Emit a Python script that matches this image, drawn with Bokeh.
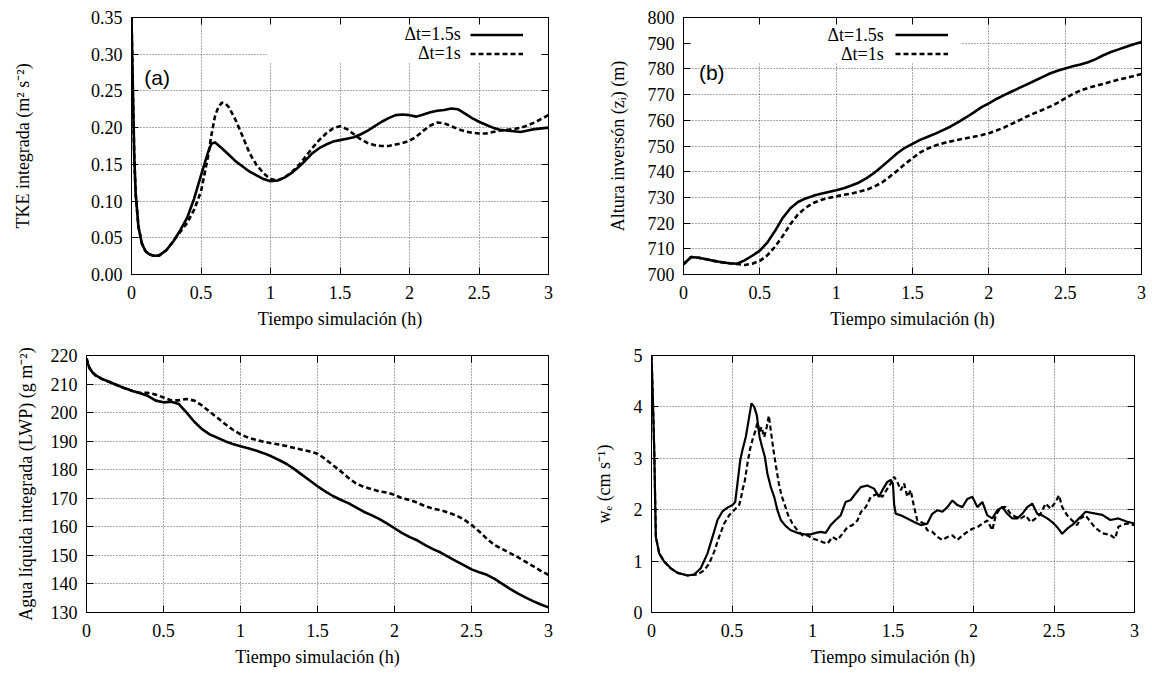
from bokeh.plotting import figure
from bokeh.models import (Range1d, FixedTicker, LinearAxis, Legend, LegendItem,
                          Label, BoxAnnotation, Grid)
from bokeh.layouts import column, row
from bokeh.core.properties import value
from bokeh.embed import file_html
from bokeh.resources import INLINE

# ---------------- data ----------------
x_ticks = [0, 0.5, 1, 1.5, 2, 2.5, 3]
x_tick_labels = ["0", "0.5", "1", "1.5", "2", "2.5", "3"]
x_title = "Tiempo simulación (h)"
series_labels = ["\u0394t=1.5s", "\u0394t=1s"]

# (a) TKE integrada
tke_t15 = [0, 0.01, 0.02, 0.03, 0.05, 0.075, 0.1, 0.125, 0.15, 0.175, 0.2, 0.25, 0.3, 0.35, 0.4,
           0.45, 0.5, 0.55, 0.575, 0.6, 0.65, 0.7, 0.75, 0.8, 0.85, 0.9, 0.95, 1.0, 1.05, 1.1,
           1.15, 1.2, 1.25, 1.3, 1.35, 1.4, 1.45, 1.5, 1.55, 1.6, 1.65, 1.7, 1.75, 1.8, 1.85,
           1.9, 1.95, 2.0, 2.05, 2.1, 2.15, 2.2, 2.25, 2.3, 2.35, 2.4, 2.45, 2.5, 2.55, 2.6,
           2.65, 2.7, 2.75, 2.8, 2.85, 2.9, 2.95, 3.0]
tke_v15 = [0.35, 0.25, 0.16, 0.11, 0.065, 0.042, 0.032, 0.028, 0.026, 0.0255, 0.026, 0.033, 0.045,
           0.060, 0.077, 0.103, 0.135, 0.166, 0.178, 0.180, 0.172, 0.163, 0.154, 0.147, 0.140,
           0.135, 0.130, 0.127, 0.128, 0.132, 0.138, 0.146, 0.155, 0.165, 0.172, 0.177, 0.181,
           0.183, 0.185, 0.187, 0.191, 0.196, 0.202, 0.208, 0.213, 0.217, 0.218, 0.217, 0.215,
           0.218, 0.221, 0.223, 0.224, 0.226, 0.225, 0.219, 0.213, 0.208, 0.204, 0.200, 0.197,
           0.196, 0.195, 0.194, 0.196, 0.198, 0.199, 0.200]
tke_t1 = [0, 0.01, 0.02, 0.03, 0.05, 0.075, 0.1, 0.125, 0.15, 0.175, 0.2, 0.25, 0.3, 0.35, 0.4,
          0.45, 0.5, 0.55, 0.575, 0.6, 0.625, 0.65, 0.675, 0.7, 0.75, 0.8, 0.85, 0.9, 0.95, 1.0,
          1.05, 1.1, 1.15, 1.2, 1.25, 1.3, 1.35, 1.4, 1.45, 1.5, 1.55, 1.6, 1.65, 1.7, 1.75,
          1.8, 1.85, 1.9, 1.95, 2.0, 2.05, 2.1, 2.15, 2.2, 2.25, 2.3, 2.35, 2.4, 2.45, 2.5,
          2.55, 2.6, 2.65, 2.7, 2.75, 2.8, 2.85, 2.9, 2.95, 3.0]
tke_v1 = [0.35, 0.25, 0.16, 0.11, 0.065, 0.042, 0.032, 0.028, 0.026, 0.0255, 0.026, 0.033, 0.045,
          0.058, 0.070, 0.088, 0.113, 0.160, 0.190, 0.215, 0.228, 0.234, 0.233, 0.228, 0.210,
          0.188, 0.165, 0.149, 0.138, 0.130, 0.128, 0.132, 0.139, 0.148, 0.160, 0.172, 0.183,
          0.192, 0.199, 0.202, 0.198, 0.191, 0.184, 0.179, 0.176, 0.175, 0.175, 0.177, 0.179,
          0.182, 0.188, 0.196, 0.203, 0.207, 0.206, 0.202, 0.198, 0.195, 0.193, 0.192, 0.192,
          0.194, 0.196, 0.197, 0.198, 0.200, 0.203, 0.207, 0.212, 0.217]
tke_ticks = [0.0, 0.05, 0.10, 0.15, 0.20, 0.25, 0.30, 0.35]
tke_tick_labels = ["0.00", "0.05", "0.10", "0.15", "0.20", "0.25", "0.30", "0.35"]

# (b) Altura inversion
zi_t = [0, 0.05, 0.1, 0.15, 0.2, 0.25, 0.3, 0.35, 0.4, 0.45, 0.5, 0.55, 0.6, 0.65, 0.7, 0.75, 0.8,
        0.85, 0.9, 0.95, 1.0, 1.05, 1.1, 1.15, 1.2, 1.25, 1.3, 1.35, 1.4, 1.45, 1.5, 1.55, 1.6,
        1.65, 1.7, 1.75, 1.8, 1.85, 1.9, 1.95, 2.0, 2.05, 2.1, 2.15, 2.2, 2.25, 2.3, 2.35, 2.4,
        2.45, 2.5, 2.55, 2.6, 2.65, 2.7, 2.75, 2.8, 2.85, 2.9, 2.95, 3.0]
zi_15 = [704.0, 706.8, 706.5, 705.9, 705.3, 704.8, 704.4, 704.2, 705.5, 707.3, 709.3, 712.5, 717.0,
         722.0, 725.8, 728.2, 729.6, 730.6, 731.4, 732.1, 732.8, 733.6, 734.6, 735.8, 737.5,
         739.6, 742.0, 744.6, 747.2, 749.3, 750.8, 752.4, 753.6, 754.8, 756.2, 757.6, 759.3,
         761.1, 763.0, 765.0, 766.6, 768.3, 769.8, 771.2, 772.6, 774.0, 775.4, 776.8, 778.2,
         779.3, 780.2, 781.0, 781.7, 782.6, 783.8, 785.3, 786.6, 787.6, 788.6, 789.6, 790.5]
zi_1 = [704.0, 706.8, 706.5, 705.9, 705.3, 704.8, 704.4, 704.1, 703.7, 704.2, 705.3, 707.5, 710.8,
        715.0, 719.6, 723.4, 726.0, 727.8, 729.0, 729.8, 730.4, 731.0, 731.5, 732.2, 733.0,
        734.2, 735.8, 738.0, 740.4, 743.0, 745.2, 747.5, 749.0, 750.2, 751.1, 751.8, 752.4,
        753.0, 753.6, 754.2, 755.0, 756.0, 757.2, 758.6, 760.0, 761.5, 762.8, 764.0, 765.3,
        766.8, 768.5, 770.2, 771.6, 772.6, 773.4, 774.2, 775.0, 775.8, 776.5, 777.2, 778.0]
zi_ticks = [700, 710, 720, 730, 740, 750, 760, 770, 780, 790, 800]
zi_tick_labels = ["700", "710", "720", "730", "740", "750", "760", "770", "780", "790", "800"]

# (c) LWP
lwp_t15 = [0, 0.01, 0.02, 0.04, 0.06, 0.1, 0.15, 0.2, 0.25, 0.3, 0.35, 0.4, 0.45, 0.5, 0.55, 0.6,
           0.65, 0.7, 0.75, 0.8, 0.85, 0.9, 0.95, 1.0, 1.05, 1.1, 1.15, 1.2, 1.25, 1.3, 1.35, 1.4,
           1.45, 1.5, 1.55, 1.6, 1.65, 1.7, 1.75, 1.8, 1.85, 1.9, 1.95, 2.0, 2.05, 2.1, 2.15,
           2.2, 2.25, 2.3, 2.35, 2.4, 2.45, 2.5, 2.55, 2.6, 2.65, 2.7, 2.75, 2.8, 2.85, 2.9,
           2.95, 3.0]
lwp_15 = [219.0, 217.0, 215.5, 214.0, 213.0, 211.8, 210.7, 209.6, 208.5, 207.6, 206.8, 205.8,
          204.2, 203.6, 203.8, 203.0, 200.0, 196.8, 194.2, 192.4, 191.2, 190.0, 189.0, 188.2,
          187.5, 186.7, 185.8, 184.7, 183.4, 182.0, 180.2, 178.2, 176.2, 174.2, 172.4, 170.8,
          169.5, 168.3, 166.8, 165.3, 164.1, 162.8, 161.2, 159.5, 157.8, 156.4, 155.2, 153.6,
          152.2, 151.0, 149.5, 148.0, 146.6, 145.1, 144.1, 143.2, 141.8, 140.0, 138.3, 136.7,
          135.3, 134.0, 132.8, 131.8]
lwp_t1 = [0, 0.01, 0.02, 0.04, 0.06, 0.1, 0.15, 0.2, 0.25, 0.3, 0.35, 0.4, 0.45, 0.5, 0.55, 0.6,
          0.65, 0.7, 0.75, 0.8, 0.85, 0.9, 0.95, 1.0, 1.05, 1.1, 1.15, 1.2, 1.25, 1.3, 1.35, 1.4,
          1.45, 1.5, 1.55, 1.6, 1.65, 1.7, 1.75, 1.8, 1.85, 1.9, 1.95, 2.0, 2.05, 2.1, 2.15,
          2.2, 2.25, 2.3, 2.35, 2.4, 2.45, 2.5, 2.55, 2.6, 2.65, 2.7, 2.75, 2.8, 2.85, 2.9,
          2.95, 3.0]
lwp_1 = [219.0, 217.0, 215.5, 214.0, 213.0, 211.8, 210.7, 209.6, 208.5, 207.6, 206.9, 206.9,
         206.3, 205.3, 204.3, 204.3, 204.8, 204.2, 202.5, 200.3, 198.2, 196.0, 194.0, 192.4,
         191.2, 190.5, 189.8, 189.3, 188.8, 188.3, 187.6, 187.0, 186.4, 185.6, 183.8, 181.6,
         179.5, 177.2, 175.2, 174.0, 173.2, 172.4, 172.0, 171.2, 170.0, 169.4, 168.4, 167.2,
         166.4, 165.8, 165.0, 164.0, 162.6, 160.7, 158.4, 155.8, 153.6, 152.2, 150.8, 149.4,
         147.8, 146.2, 144.6, 143.2]
lwp_ticks = [130, 140, 150, 160, 170, 180, 190, 200, 210, 220]
lwp_tick_labels = ["130", "140", "150", "160", "170", "180", "190", "200", "210", "220"]

# (d) entrainment velocity
we_t15 = [0, 0.008, 0.017, 0.027, 0.048, 0.079, 0.12, 0.162, 0.224, 0.265, 0.306, 0.348, 0.379,
          0.41, 0.441, 0.472, 0.503, 0.52, 0.534, 0.551, 0.565, 0.586, 0.607, 0.621, 0.638,
          0.654, 0.671, 0.687, 0.704, 0.72, 0.741, 0.762, 0.782, 0.803, 0.834, 0.865, 0.906,
          0.948, 0.989, 1.02, 1.051, 1.082, 1.113, 1.144, 1.175, 1.206, 1.238, 1.269, 1.3,
          1.341, 1.382, 1.413, 1.434, 1.465, 1.486, 1.5, 1.507, 1.517, 1.548, 1.589, 1.631,
          1.672, 1.713, 1.744, 1.776, 1.807, 1.838, 1.869, 1.9, 1.931, 1.962, 1.993, 2.024,
          2.055, 2.086, 2.117, 2.148, 2.179, 2.21, 2.241, 2.272, 2.303, 2.334, 2.365, 2.396,
          2.427, 2.458, 2.489, 2.52, 2.551, 2.582, 2.624, 2.665, 2.696, 2.75, 2.8, 2.85, 2.9,
          2.95, 3.0]
we_15 = [5.0, 4.2, 3.16, 1.47, 1.15, 0.99, 0.86, 0.77, 0.72, 0.74, 0.86, 1.15, 1.47, 1.80, 1.97,
         2.04, 2.09, 2.15, 2.51, 2.96, 3.16, 3.42, 3.81, 4.07, 4.0, 3.84, 3.42, 3.22, 3.03, 2.7,
         2.44, 2.25, 1.99, 1.80, 1.68, 1.60, 1.55, 1.52, 1.52, 1.55, 1.57, 1.55, 1.70, 1.80,
         1.89, 2.15, 2.19, 2.32, 2.44, 2.47, 2.41, 2.25, 2.38, 2.54, 2.58, 2.50, 2.10, 1.92,
         1.89, 1.83, 1.76, 1.70, 1.73, 1.92, 1.99, 1.96, 2.05, 2.18, 2.09, 2.05, 2.21, 2.25,
         2.05, 2.15, 1.89, 1.83, 1.99, 2.05, 1.92, 1.83, 1.83, 1.92, 2.05, 2.12, 1.92, 1.89,
         1.83, 1.76, 1.66, 1.53, 1.63, 1.73, 1.86, 1.96, 1.93, 1.90, 1.80, 1.83, 1.77, 1.73]
we_t1 = [0, 0.008, 0.017, 0.027, 0.048, 0.079, 0.12, 0.162, 0.224, 0.245, 0.286, 0.327, 0.358,
         0.389, 0.42, 0.451, 0.482, 0.513, 0.544, 0.555, 0.565, 0.58, 0.596, 0.613, 0.629,
         0.646, 0.658, 0.671, 0.683, 0.7, 0.716, 0.729, 0.741, 0.758, 0.774, 0.791, 0.807,
         0.828, 0.849, 0.875, 0.906, 0.938, 0.969, 1.0, 1.03, 1.062, 1.093, 1.124, 1.155,
         1.186, 1.217, 1.248, 1.279, 1.3, 1.31, 1.331, 1.362, 1.403, 1.434, 1.465, 1.486,
         1.507, 1.527, 1.548, 1.569, 1.589, 1.61, 1.631, 1.651, 1.672, 1.693, 1.713, 1.744,
         1.776, 1.807, 1.838, 1.869, 1.9, 1.931, 1.962, 1.993, 2.024, 2.055, 2.086, 2.117,
         2.138, 2.169, 2.2, 2.231, 2.262, 2.293, 2.324, 2.355, 2.386, 2.417, 2.448, 2.479,
         2.51, 2.531, 2.551, 2.582, 2.613, 2.644, 2.665, 2.696, 2.75, 2.8, 2.85, 2.88, 2.9,
         2.95, 3.0]
we_1 = [5.0, 4.2, 3.16, 1.47, 1.15, 0.99, 0.86, 0.77, 0.72, 0.73, 0.74, 0.82, 0.95, 1.18, 1.47,
        1.73, 1.89, 1.99, 2.09, 2.21, 2.38, 2.57, 2.90, 3.19, 3.38, 3.54, 3.70, 3.51, 3.61,
        3.41, 3.61, 3.83, 3.54, 3.15, 2.83, 2.51, 2.28, 2.09, 1.89, 1.73, 1.60, 1.50, 1.50,
        1.44, 1.41, 1.37, 1.34, 1.47, 1.41, 1.53, 1.66, 1.70, 1.79, 1.95, 1.99, 2.05, 2.25,
        2.31, 2.25, 2.41, 2.51, 2.64, 2.54, 2.38, 2.51, 2.25, 2.38, 2.05, 1.79, 1.76, 1.73,
        1.60, 1.57, 1.47, 1.41, 1.47, 1.50, 1.41, 1.50, 1.57, 1.63, 1.66, 1.73, 1.79, 1.60,
        1.89, 2.05, 2.05, 1.92, 1.86, 1.83, 1.89, 1.76, 1.83, 1.92, 2.12, 2.02, 2.15, 2.28,
        2.05, 1.89, 1.79, 1.70, 1.83, 1.89, 1.67, 1.54, 1.51, 1.44, 1.67, 1.73, 1.70]
we_ticks = [0, 1, 2, 3, 4, 5]
we_tick_labels = ["0", "1", "2", "3", "4", "5"]

# ---------------- styling ----------------
SERIF = "Liberation Serif"
SANS = "Liberation Sans"
FS = "18px"
LW = 2.6
DASH = "5 3"


def make_fig(w, h, borders, yr, yticks, ylabels, ytitle, ytitle_standoff):
    left, right, top, bottom = borders
    p = figure(width=w, height=h, output_backend="svg", toolbar_location=None,
               x_range=Range1d(0, 3), y_range=Range1d(*yr),
               min_border_left=left, min_border_right=right,
               min_border_top=top, min_border_bottom=bottom,
               x_axis_type=None, y_axis_type=None)
    p.outline_line_color = "black"
    p.outline_line_width = 1
    p.outline_line_alpha = 1
    p.background_fill_color = "white"
    p.border_fill_color = "white"

    xt = FixedTicker(ticks=x_ticks)
    yt = FixedTicker(ticks=yticks)
    xax = LinearAxis(ticker=xt, axis_label=x_title)
    xax.major_label_overrides = {k: v for k, v in zip(x_ticks, x_tick_labels)}
    yax = LinearAxis(ticker=yt, axis_label=ytitle)
    yax.major_label_overrides = {k: v for k, v in zip(yticks, ylabels)}
    for ax, st, ls in ((xax, 7, 11), (yax, ytitle_standoff, 9)):
        ax.major_tick_in = 7
        ax.major_tick_out = 0
        ax.minor_tick_line_color = None
        ax.axis_line_color = "black"
        ax.major_tick_line_color = "black"
        ax.major_label_text_font = SERIF
        ax.major_label_text_font_size = FS
        ax.major_label_text_color = "black"
        ax.axis_label_text_font = SERIF
        ax.axis_label_text_font_size = FS
        ax.axis_label_text_font_style = "normal"
        ax.axis_label_text_color = "black"
        ax.axis_label_standoff = st
        ax.major_label_standoff = ls
    p.add_layout(xax, "below")
    p.add_layout(yax, "left")
    # mirrored tick marks (no labels)
    for side, tk in (("above", xt), ("right", yt)):
        m = LinearAxis(ticker=tk)
        m.major_tick_in = 7
        m.major_tick_out = 0
        m.minor_tick_line_color = None
        m.major_label_text_font_size = "1px"
        m.major_label_text_color = None
        m.major_label_text_alpha = 0
        m.major_label_standoff = 0
        m.axis_line_color = "black"
        p.add_layout(m, side)

    gx = Grid(dimension=0, ticker=xt, grid_line_color="#555555", grid_line_dash="1 2",
              grid_line_width=1)
    gy = Grid(dimension=1, ticker=yt, grid_line_color="#555555", grid_line_dash="1 2",
              grid_line_width=1)
    p.add_layout(gx)
    p.add_layout(gy)
    return p


def add_key(p, r1, r2, vx, vy, tx, ty1, ty2):
    leg = Legend(items=[LegendItem(label=value(" "), renderers=[r1]),
                        LegendItem(label=value(" "), renderers=[r2])],
                 location=(vx, vy), glyph_width=53, glyph_height=19, label_height=19,
                 label_width=0, spacing=0, padding=0, margin=0, label_standoff=0,
                 background_fill_alpha=0, border_line_alpha=0,
                 label_text_font_size="1px", label_text_color=None, label_text_alpha=0)
    p.add_layout(leg)
    for txt, yy in zip(series_labels, (ty1, ty2)):
        p.add_layout(Label(x=tx, y=yy, text=txt, text_align="right", text_baseline="middle",
                           text_font=SERIF, text_font_size=FS, text_color="black"))


# (a)
pa = make_fig(576, 336, (131, 28, 17, 62), (0, 0.35), tke_ticks, tke_tick_labels,
              "TKE integrada (m\u00b2 s\u207b\u00b2)", 55)
pa.add_layout(BoxAnnotation(left=0.975, right=3, bottom=0.288, top=0.35, fill_color="white",
                            fill_alpha=1, line_alpha=0, level="underlay"))
ra1 = pa.line(tke_t15, tke_v15, line_color="black", line_width=LW)
ra2 = pa.line(tke_t1, tke_v1, line_color="black", line_width=LW, line_dash=DASH)
add_key(pa, ra1, ra2, 339, 211, 2.368, 0.3272, 0.3017)
pa.add_layout(Label(x=0.092, y=0.2686, text="(a)", text_font=SANS, text_font_size="21px",
                    text_baseline="middle", text_align="left", text_color="black"))

# (b)
pb = make_fig(576, 336, (107, 11, 16, 62), (700, 800), zi_ticks, zi_tick_labels,
              "Altura inversón (z\u1d62) (m)", 17)
pb.add_layout(BoxAnnotation(left=0, right=1.815, bottom=782.2, top=800, fill_color="white",
                            fill_alpha=1, line_alpha=0, level="underlay"))
rb1 = pb.line(zi_t, zi_15, line_color="black", line_width=LW)
rb2 = pb.line(zi_t, zi_1, line_color="black", line_width=LW, line_dash=DASH)
add_key(pb, rb1, rb2, 212, 211, 1.3115, 793.0, 785.8)
pb.add_layout(Label(x=0.1008, y=778.7, text="(b)", text_font=SANS, text_font_size="21px",
                    text_baseline="middle", text_align="left", text_color="black"))

# (c)
pc = make_fig(576, 337, (86, 28, 18, 60), (130, 220), lwp_ticks, lwp_tick_labels,
              "Agua líquida integrada (LWP) (g m\u207b\u00b2)", 12)
pc.line(lwp_t15, lwp_15, line_color="black", line_width=LW)
pc.line(lwp_t1, lwp_1, line_color="black", line_width=LW, line_dash=DASH)

# (d)
pd = make_fig(576, 337, (75, 18, 19, 61), (0, 5), we_ticks, we_tick_labels,
              "w\u2091 (cm s\u207b\u00b9)", 17)
pd.line(we_t15, we_15, line_color="black", line_width=2.2)
pd.line(we_t1, we_1, line_color="black", line_width=2.2, line_dash=DASH)

layout = column(row(pa, pb), row(pc, pd))
open("out.html", "w").write(file_html(layout, INLINE))
